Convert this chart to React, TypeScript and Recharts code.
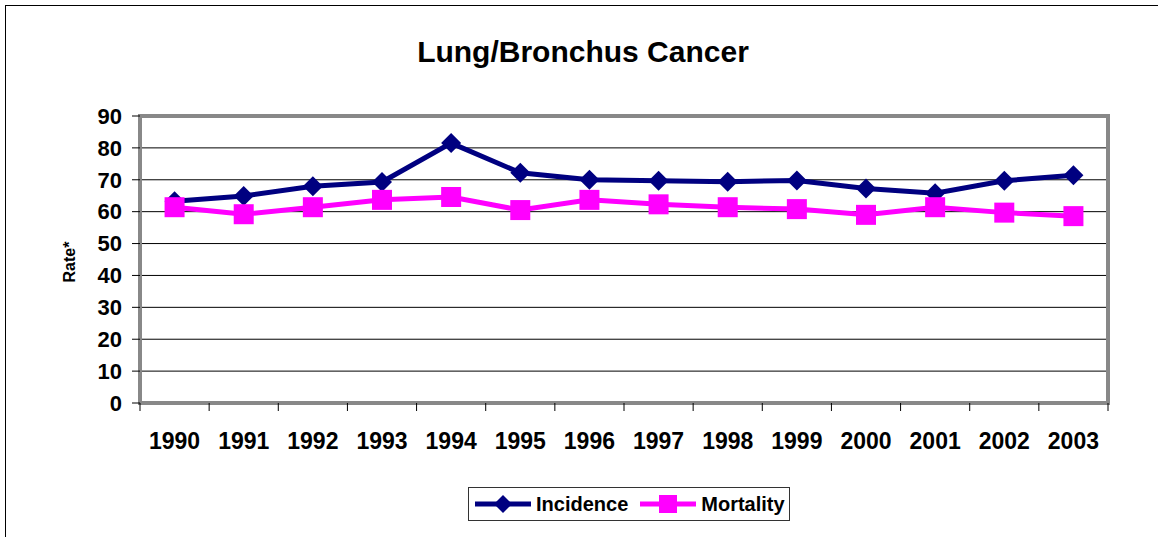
import { LineChart, Line, XAxis, YAxis, CartesianGrid, ReferenceArea } from "recharts";

const years = ["1990", "1991", "1992", "1993", "1994", "1995", "1996", "1997", "1998", "1999", "2000", "2001", "2002", "2003"];
const incidence = [63.3, 64.9, 68.0, 69.3, 81.5, 72.2, 70.0, 69.7, 69.4, 69.8, 67.3, 65.8, 69.7, 71.4];
const mortality = [61.4, 59.2, 61.4, 63.7, 64.6, 60.5, 63.7, 62.3, 61.4, 60.8, 59.0, 61.4, 59.7, 58.6];
const yTicks = [0, 10, 20, 30, 40, 50, 60, 70, 80, 90];

const data = years.map((y, i) => ({ i, year: y, Incidence: incidence[i], Mortality: mortality[i] }));
const boundaryTicks = years.map((_, i) => i - 0.5).concat([years.length - 0.5]);
const centerTicks = years.map((_, i) => i);
const xDomain = [-0.5, years.length - 0.5];

const FONT = "'Liberation Sans', Arial, sans-serif";
const NAVY = "#000080";
const MAGENTA = "#FF00FF";
const FRAME = "#888888";

const Diamond = (props: any) => {
  const { cx, cy } = props;
  if (cx == null || cy == null) return null;
  const r = 10;
  return (
    <polygon
      key={`d-${cx}`}
      points={`${cx},${cy - r} ${cx + r},${cy} ${cx},${cy + r} ${cx - r},${cy}`}
      fill={NAVY}
    />
  );
};

const Square = (props: any) => {
  const { cx, cy } = props;
  if (cx == null || cy == null) return null;
  const s = 10;
  return <rect key={`s-${cx}`} x={cx - s} y={cy - s} width={s * 2} height={s * 2} fill={MAGENTA} />;
};

const LegendBox = () => (
  <div
    style={{
      position: "absolute",
      left: 468,
      top: 487,
      width: 320,
      height: 32,
      border: "1px solid #333",
      background: "#fff",
      display: "flex",
      alignItems: "center",
      fontFamily: FONT,
      fontWeight: 700,
      fontSize: 20,
      color: "#000",
    }}
  >
    <svg width={62} height={20} style={{ marginLeft: 4 }}>
      <line x1={2} y1={10} x2={58} y2={10} stroke={NAVY} strokeWidth={5} />
      <polygon points="30,1 39,10 30,19 21,10" fill={NAVY} />
    </svg>
    <span style={{ marginLeft: 1 }}>Incidence</span>
    <svg width={62} height={20} style={{ marginLeft: 10 }}>
      <line x1={2} y1={10} x2={58} y2={10} stroke={MAGENTA} strokeWidth={5} />
      <rect x={21} y={1} width={18} height={18} fill={MAGENTA} />
    </svg>
    <span style={{ marginLeft: 1 }}>Mortality</span>
  </div>
);

export default function App() {
  return (
    <div style={{ position: "absolute", left: 0, top: 0, width: 1158, height: 537, background: "#fff", overflow: "hidden" }}>
      <div style={{ position: "absolute", left: 5, top: 5, width: 1170, height: 560, border: "1px solid #000" }} />
      <div
        style={{
          position: "absolute",
          left: 0,
          top: 35,
          width: 1166,
          textAlign: "center",
          fontFamily: FONT,
          fontWeight: 700,
          fontSize: 30,
          color: "#000",
        }}
      >
        Lung/Bronchus Cancer
      </div>
      <div
        style={{
          position: "absolute",
          left: 70,
          top: 262,
          transform: "translate(-50%, -50%) rotate(-90deg)",
          fontFamily: FONT,
          fontWeight: 700,
          fontSize: 16,
          whiteSpace: "nowrap",
        }}
      >
        Rate*
      </div>
      <div style={{ position: "absolute", left: 0, top: 0 }}>
        <LineChart width={1158} height={537} data={data} margin={{ top: 116, right: 50, bottom: 86, left: 80 }}>
          <CartesianGrid vertical={false} stroke="#000" strokeWidth={1} xAxisId="a_ticks" yAxisId="l" />
          <XAxis
            xAxisId="a_ticks"
            type="number"
            dataKey="i"
            domain={xDomain}
            ticks={boundaryTicks}
            tickFormatter={() => ""}
            tickLine={{ stroke: "#000", strokeWidth: 1 }}
            tickSize={8}
            axisLine={false}
            height={8}
            interval={0}
          />
          <XAxis
            xAxisId="b_labels"
            type="number"
            dataKey="i"
            domain={xDomain}
            ticks={centerTicks}
            tickFormatter={(v: number) => years[v] ?? ""}
            axisLine={false}
            tickLine={false}
            tickMargin={16}
            tick={{ fill: "#000", fontFamily: FONT, fontWeight: 700, fontSize: 23 }}
            height={40}
            interval={0}
          />
          <YAxis
            yAxisId="l"
            domain={[0, 90]}
            ticks={yTicks}
            interval={0}
            width={60}
            tickSize={8}
            tickMargin={10}
            tickLine={{ stroke: "#000", strokeWidth: 1 }}
            axisLine={false}
            tick={{ fill: "#000", fontFamily: FONT, fontWeight: 700, fontSize: 22 }}
          />
          <ReferenceArea
            xAxisId="a_ticks"
            yAxisId="l"
            x1={xDomain[0]}
            x2={xDomain[1]}
            y1={0}
            y2={90}
            fill="none"
            fillOpacity={0}
            stroke={FRAME}
            strokeWidth={4}
            strokeOpacity={1}
          />
          <Line
            xAxisId="a_ticks"
            yAxisId="l"
            type="linear"
            dataKey="Incidence"
            stroke={NAVY}
            strokeWidth={5}
            dot={Diamond}
            activeDot={false}
            isAnimationActive={false}
          />
          <Line
            xAxisId="a_ticks"
            yAxisId="l"
            type="linear"
            dataKey="Mortality"
            stroke={MAGENTA}
            strokeWidth={5}
            dot={Square}
            activeDot={false}
            isAnimationActive={false}
          />
        </LineChart>
      </div>
      <LegendBox />
    </div>
  );
}
